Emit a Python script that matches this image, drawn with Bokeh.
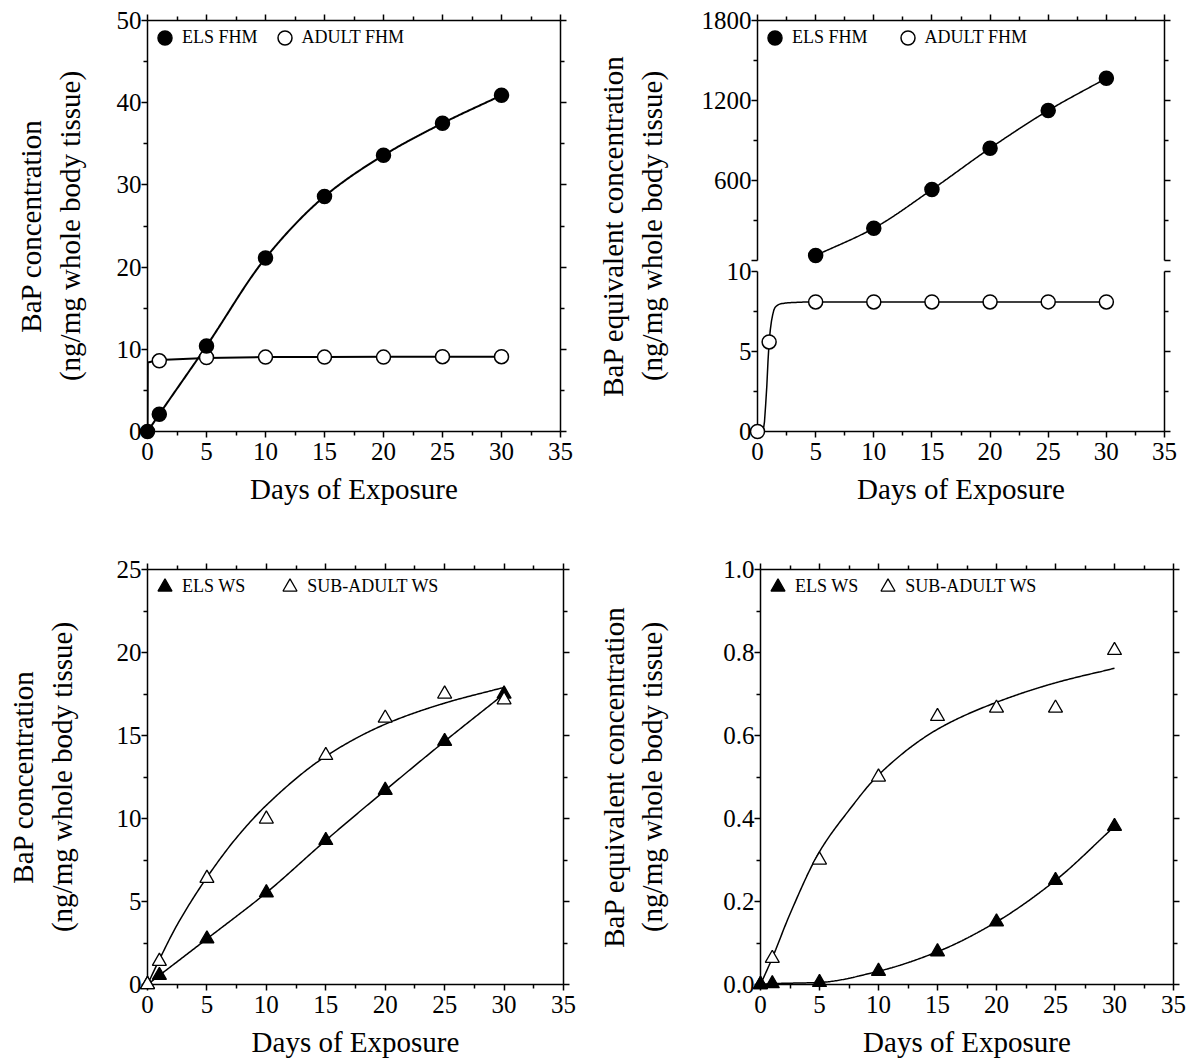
import numpy as np
from bokeh.plotting import figure
from bokeh.models import (Range1d, LinearAxis, FixedTicker, Legend, LegendItem,
                          PrintfTickFormatter)
from bokeh.layouts import row, column
from bokeh.embed import file_html
from bokeh.resources import INLINE

FONT = "Liberation Serif"

# ---------------- data ----------------
days = [0, 1, 5, 10, 15, 20, 25, 30]
x_ticks = [0, 5, 10, 15, 20, 25, 30, 35]
x_minor = [2.5, 7.5, 12.5, 17.5, 22.5, 27.5, 32.5]
x_label = "Days of Exposure"

# Panel A: BaP concentration, fathead minnow
els_fhm_bap = [0, 2.1, 10.4, 21.1, 28.6, 33.6, 37.5, 40.9]
adult_fhm_days = [1, 5, 10, 15, 20, 25, 30]
adult_fhm_bap = [8.6, 9.0, 9.05, 9.05, 9.05, 9.1, 9.1]
adult_fhm_bap_fit_days = [0, 0.02, 1, 5, 10, 15, 20, 25, 30]
adult_fhm_bap_fit = [0, 8.4, 8.7, 8.95, 9.05, 9.05, 9.1, 9.1, 9.1]
a_y_ticks = [0, 10, 20, 30, 40, 50]
a_y_minor = [5, 15, 25, 35, 45]

# Panel B: BaP equivalent concentration, fathead minnow (broken axis)
els_fhm_beq_days = [5, 10, 15, 20, 25, 30]
els_fhm_beq = [37.5, 242, 532, 842, 1125, 1367]
adult_fhm_beq = [0, 5.6, 8.1, 8.1, 8.1, 8.1, 8.1, 8.1]
adult_fhm_beq_fit_days = [0, 0.5, 0.75, 1, 1.25, 1.5, 2, 3, 5, 10, 15, 20, 25, 30]
adult_fhm_beq_fit = [0, 0.1, 2.2, 5.6, 7.1, 7.75, 7.98, 8.06, 8.1, 8.1, 8.1, 8.1, 8.1, 8.1]
b_low_ticks = [0, 5, 10]
b_low_minor = [2.5, 7.5]
b_up_ticks = [0, 600, 1200, 1800]
b_up_minor = [300, 900, 1500]

# Panel C: BaP concentration, white sucker
els_ws_bap = [0, 0.55, 2.75, 5.53, 8.68, 11.7, 14.65, 17.5]
sub_ws_bap = [0, 1.4, 6.4, 9.97, 13.8, 16.05, 17.5, 17.15]
sub_ws_fit_days = [0, 1, 2.5, 5, 7.5, 10, 15, 20, 25, 30]
sub_ws_bap_fit = [0, 1.5, 3.6, 6.45, 8.85, 10.8, 13.75, 15.68, 16.95, 17.9]
c_y_ticks = [0, 5, 10, 15, 20, 25]
c_y_minor = [2.5, 7.5, 12.5, 17.5, 22.5]

# Panel D: BaP equivalent concentration, white sucker
els_ws_beq = [0, 0.002, 0.005, 0.032, 0.079, 0.151, 0.251, 0.381]
sub_ws_beq = [0, 0.063, 0.30, 0.50, 0.646, 0.666, 0.666, 0.805]
sub_ws_beq_fit = [0, 0.064, 0.17, 0.32, 0.42, 0.505, 0.615, 0.68, 0.727, 0.762]
d_y_ticks = [0, 0.2, 0.4, 0.6, 0.8, 1.0]
d_y_minor = [0.1, 0.3, 0.5, 0.7, 0.9]

LBL_BAP = "BaP concentration\n(ng/mg whole body tissue)"
LBL_BEQ = "BaP equivalent concentration\n(ng/mg whole body tissue)"


# ---------------- helpers ----------------
def smooth(xs, ys, n=300):
    """monotone cubic (Fritsch-Carlson) curve through the given points"""
    x = np.asarray(xs, float)
    y = np.asarray(ys, float)
    h = np.diff(x)
    d = np.diff(y) / h
    m = np.zeros_like(y)
    m[0], m[-1] = d[0], d[-1]
    for i in range(1, len(x) - 1):
        if d[i - 1] * d[i] <= 0:
            m[i] = 0.0
        else:
            w1 = 2 * h[i] + h[i - 1]
            w2 = h[i] + 2 * h[i - 1]
            m[i] = (w1 + w2) / (w1 / d[i - 1] + w2 / d[i])
    xx = np.linspace(x[0], x[-1], n)
    idx = np.clip(np.searchsorted(x, xx, side="right") - 1, 0, len(x) - 2)
    t = (xx - x[idx]) / h[idx]
    h00 = 2 * t**3 - 3 * t**2 + 1
    h10 = t**3 - 2 * t**2 + t
    h01 = -2 * t**3 + 3 * t**2
    h11 = t**3 - t**2
    yy = h00 * y[idx] + h10 * h[idx] * m[idx] + h01 * y[idx + 1] + h11 * h[idx] * m[idx + 1]
    return xx, yy


def style_axis(ax, labels=True):
    ax.axis_line_color = "black"
    ax.axis_line_width = 1.5
    ax.major_tick_line_color = "black"
    ax.major_tick_line_width = 1.5
    ax.minor_tick_line_color = "black"
    ax.minor_tick_line_width = 1.5
    ax.major_tick_in = 0
    ax.major_tick_out = 6
    ax.minor_tick_in = 0
    ax.minor_tick_out = 4
    ax.major_label_text_font = FONT
    ax.major_label_text_color = "black"
    ax.axis_label_text_font = FONT
    ax.axis_label_text_font_size = "29px"
    ax.axis_label_text_font_style = "normal"
    ax.axis_label_text_color = "black"
    if labels:
        ax.major_label_text_font_size = "25px"
    else:
        ax.major_label_text_font_size = "0px"
        ax.major_label_standoff = 0


def make_fig(w, h, bl, br, bt, bb, y_end, yticker, ylabel, ylab_standoff, xlab_standoff):
    p = figure(width=w, height=h, x_range=Range1d(0, 35), y_range=Range1d(0, y_end),
               output_backend="svg", toolbar_location=None,
               min_border_left=bl, min_border_right=br, min_border_top=bt, min_border_bottom=bb,
               x_axis_label=x_label, y_axis_label=ylabel)
    p.grid.visible = False
    p.outline_line_color = None
    p.background_fill_color = "white"
    p.border_fill_color = "white"
    xt = FixedTicker(ticks=x_ticks, minor_ticks=x_minor)
    bottom = p.below[0]
    left = p.left[0]
    bottom.ticker = xt
    left.ticker = yticker
    top = LinearAxis(ticker=xt)
    right = LinearAxis(ticker=yticker)
    p.add_layout(top, "above")
    p.add_layout(right, "right")
    style_axis(bottom)
    style_axis(left)
    style_axis(top, labels=False)
    style_axis(right, labels=False)
    bottom.major_label_standoff = 5
    left.major_label_standoff = 0
    left.axis_label_standoff = ylab_standoff
    bottom.axis_label_standoff = xlab_standoff
    return p, left, right


def add_legend(p, items, spacing, standoff):
    lg = Legend(items=items, orientation="horizontal", location="top_left",
                border_line_color=None, background_fill_alpha=0,
                label_text_font=FONT, label_text_font_size="18px", label_text_color="black",
                glyph_width=35, glyph_height=35, label_standoff=standoff, spacing=spacing,
                padding=4, margin=0)
    p.add_layout(lg)


# ---------------- Panel A ----------------
pa, _, _ = make_fig(594, 540, 147, 34, 20, 109, 50,
                    FixedTicker(ticks=a_y_ticks, minor_ticks=a_y_minor), LBL_BAP, 28, 10)
ex, ey = smooth(days, els_fhm_bap)
la1 = pa.line(ex, ey, line_color="black", line_width=2)
la2 = pa.line(adult_fhm_bap_fit_days, adult_fhm_bap_fit, line_color="black", line_width=2)
sa2 = pa.scatter(adult_fhm_days, adult_fhm_bap, marker="circle", size=14,
                 fill_color="white", line_color="black", line_width=1.5)
sa1 = pa.scatter(days, els_fhm_bap, marker="circle", size=14,
                 fill_color="black", line_color="black", line_width=1.5)
sa1.level = "overlay"
sa2.level = "overlay"
add_legend(pa, [LegendItem(label="ELS FHM", renderers=[sa1]),
                LegendItem(label="ADULT FHM", renderers=[sa2])], 9, -4)

# ---------------- Panel B (broken y axis) ----------------
LOW_SCALE = 16.0    # screen units per unit of the lower segment
UP_BASE = 171.0     # position of the upper segment's zero
UP_DIV = 7.5        # units of the upper segment per screen unit


def low(v):
    return np.asarray(v, float) * LOW_SCALE


def up(v):
    return UP_BASE + np.asarray(v, float) / UP_DIV


b_major = [float(t) for t in low(b_low_ticks)] + [float(t) for t in up(b_up_ticks)]
b_minor = [float(t) for t in low(b_low_minor)] + [float(t) for t in up(b_up_minor)]
b_over = {float(low(t)): str(t) for t in b_low_ticks}
b_over.update({float(up(t)): (str(t) if t != 0 else "") for t in b_up_ticks})
b_top = float(up(b_up_ticks[-1]))

pb, bleft, bright = make_fig(594, 540, 158, 24, 20, 109, b_top,
                             FixedTicker(ticks=b_major, minor_ticks=b_minor), LBL_BEQ, 31, 10)
bleft.major_label_overrides = b_over
bleft.axis_line_color = None
bright.axis_line_color = None
x0, x1 = pb.x_range.start, pb.x_range.end
seg = pb.segment(x0=[x0, x0, x1, x1],
                 y0=[float(low(0)), float(up(0)), float(low(0)), float(up(0))],
                 x1=[x0, x0, x1, x1],
                 y1=[float(low(b_low_ticks[-1])), b_top, float(low(b_low_ticks[-1])), b_top],
                 line_color="black", line_width=1.5)
seg.level = "overlay"
bx, by = smooth(els_fhm_beq_days, els_fhm_beq)
lb1 = pb.line(bx, up(by), line_color="black", line_width=1.5)
ax_, ay_ = smooth(adult_fhm_beq_fit_days, adult_fhm_beq_fit)
lb2 = pb.line(ax_, low(ay_), line_color="black", line_width=1.5)
sb1 = pb.scatter(els_fhm_beq_days, up(els_fhm_beq), marker="circle", size=14,
                 fill_color="black", line_color="black", line_width=1.5)
sb2 = pb.scatter(days, low(adult_fhm_beq), marker="circle", size=14,
                 fill_color="white", line_color="black", line_width=1.5)
sb1.level = "overlay"
sb2.level = "overlay"
add_legend(pb, [LegendItem(label="ELS FHM", renderers=[sb1]),
                LegendItem(label="ADULT FHM", renderers=[sb2])], 22, -2)

# ---------------- Panel C ----------------
pc, _, _ = make_fig(594, 521, 147, 31, 29, 77, 25,
                    FixedTicker(ticks=c_y_ticks, minor_ticks=c_y_minor), LBL_BAP, 36, 10)
cx1, cy1 = smooth(days, els_ws_bap)
lc1 = pc.line(cx1, cy1, line_color="black", line_width=1.5)
cx2, cy2 = smooth(sub_ws_fit_days, sub_ws_bap_fit)
lc2 = pc.line(cx2, cy2, line_color="black", line_width=1.5)
sc1 = pc.scatter(days, els_ws_bap, marker="triangle", size=14,
                 fill_color="black", line_color="black", line_width=1.3)
sc2 = pc.scatter(days, sub_ws_bap, marker="triangle", size=14,
                 fill_color="white", line_color="black", line_width=1.3)
sc1.level = "overlay"
sc2.level = "overlay"
add_legend(pc, [LegendItem(label="ELS WS", renderers=[sc1]),
                LegendItem(label="SUB-ADULT WS", renderers=[sc2])], 27, -4)

# ---------------- Panel D ----------------
pd_, dleft, _ = make_fig(594, 521, 164, 15, 29, 77, 1.0,
                         FixedTicker(ticks=d_y_ticks, minor_ticks=d_y_minor), LBL_BEQ, 52, 10)
dleft.formatter = PrintfTickFormatter(format="%.1f")
dx2, dy2 = smooth(sub_ws_fit_days, sub_ws_beq_fit)
ld2 = pd_.line(dx2, dy2, line_color="black", line_width=1.5)
dx1, dy1 = smooth(days, els_ws_beq)
ld1 = pd_.line(dx1, dy1, line_color="black", line_width=1.5)
sd2 = pd_.scatter(days, sub_ws_beq, marker="triangle", size=14,
                  fill_color="white", line_color="black", line_width=1.3)
sd1 = pd_.scatter(days, els_ws_beq, marker="triangle", size=14,
                  fill_color="black", line_color="black", line_width=1.3)
sd1.level = "overlay"
sd2.level = "overlay"
add_legend(pd_, [LegendItem(label="ELS WS", renderers=[sd1]),
                 LegendItem(label="SUB-ADULT WS", renderers=[sd2])], 12, -2)

layout = column(row(pa, pb), row(pc, pd_))
open("out.html", "w").write(file_html(layout, INLINE))
